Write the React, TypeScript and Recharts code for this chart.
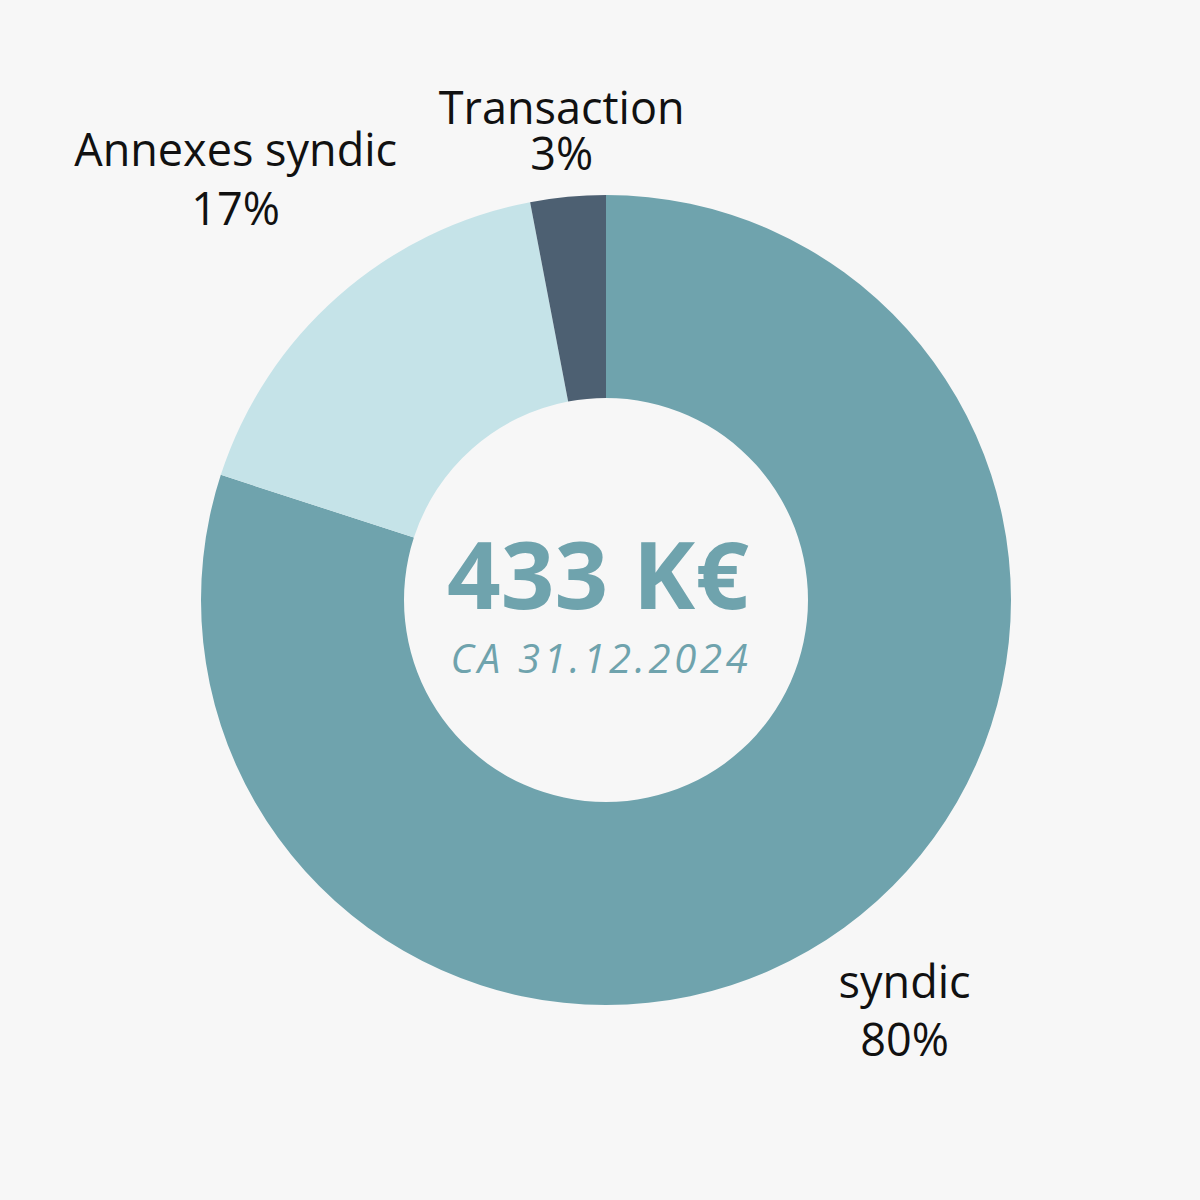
import { PieChart, Pie, Cell } from "recharts";

const segments = ["syndic", "Annexes syndic", "Transaction"];
const shares = [80, 17, 3];
const colors = ["#6fa3ad", "#c5e3e8", "#4d6072"];
const totalLabel = "433 K€";
const subtitle = "CA 31.12.2024";

const data = segments.map((name, i) => ({ name, value: shares[i] }));

const RAD = Math.PI / 180;
// distance of each label's centre beyond the outer edge, and its line gap
const labelGap = [103, 155, 66];
const lineGap = [58, 59, 46];

const FONT = "'Open Sans', 'Noto Sans', sans-serif";

function renderLabel(props: any) {
  const { cx, cy, midAngle, outerRadius, index, name, value } = props;
  const r = outerRadius + labelGap[index];
  const x = cx + r * Math.cos(-midAngle * RAD);
  const y = cy + r * Math.sin(-midAngle * RAD);
  const gap = lineGap[index];
  return (
    <text
      x={x}
      y={y}
      textAnchor="middle"
      fill="#111"
      fontFamily={FONT}
      fontSize={45}
    >
      <tspan x={x} y={y - gap / 2 + 16}>{name}</tspan>
      <tspan x={x} y={y + gap / 2 + 16}>{`${value}%`}</tspan>
    </text>
  );
}

export default function App() {
  return (
    <div style={{ width: 1200, height: 1200, background: "#f7f7f7" }}>
      <style>{`body{margin:0}`}</style>
      <PieChart width={1200} height={1200} margin={{ top: 0, right: 0, bottom: 0, left: 0 }}>
        <Pie
          data={data}
          dataKey="value"
          nameKey="name"
          cx={606}
          cy={600}
          innerRadius={202}
          outerRadius={405}
          startAngle={90}
          endAngle={-270}
          stroke="none"
          label={renderLabel}
          labelLine={false}
          isAnimationActive={false}
        >
          {data.map((d, i) => (
            <Cell key={d.name} fill={colors[i]} />
          ))}
        </Pie>
        <text
          x={598}
          y={609}
          textAnchor="middle"
          fill="#6fa3ad"
          fontFamily={FONT}
          fontWeight={700}
          fontSize={94}
        >
          {totalLabel}
        </text>
        <text
          x={601}
          y={673}
          textAnchor="middle"
          fill="#6fa3ad"
          fontFamily={FONT}
          fontStyle="italic"
          fontSize={40}
          letterSpacing={3.7}
        >
          {subtitle}
        </text>
      </PieChart>
    </div>
  );
}
